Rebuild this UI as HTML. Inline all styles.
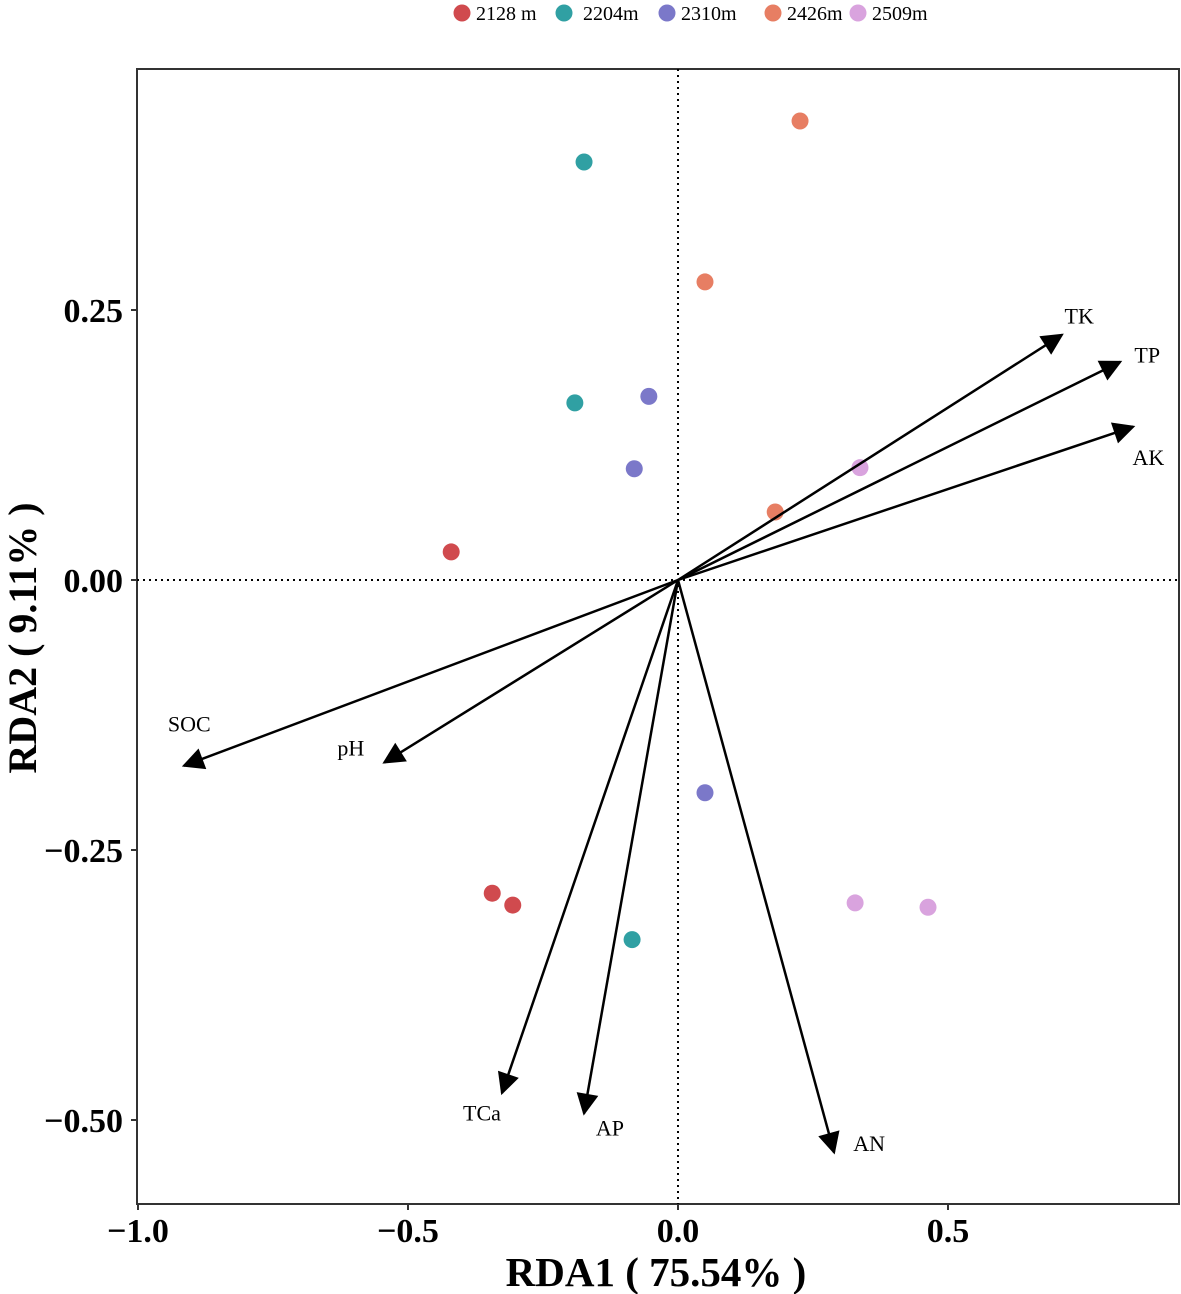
<!DOCTYPE html>
<html><head><meta charset="utf-8"><style>
body{margin:0;background:#fff}
svg{display:block;font-family:"Liberation Serif",serif}
</style></head><body>
<svg id="c" width="1181" height="1294"></svg>
<script>
const groups=["2128 m","2204m","2310m","2426m","2509m"];
const colors=["#d04a4e","#30a0a3","#7b78c9","#e77e63","#d9a3de"];
const ptGroup=[0,0,0,1,1,1,2,2,2,3,3,3,4,4,4];
const ptX=[-0.420,-0.344,-0.306,-0.174,-0.191,-0.085,-0.054,-0.081,0.050,0.226,0.050,0.180,0.337,0.328,0.463];
const ptY=[0.026,-0.290,-0.301,0.387,0.164,-0.333,0.170,0.103,-0.197,0.425,0.276,0.063,0.104,-0.299,-0.303];
const envNames=["TK","TP","AK","SOC","pH","TCa","AP","AN"];
const envX=[0.711,0.819,0.843,-0.915,-0.544,-0.326,-0.174,0.289];
const envY=[0.227,0.202,0.142,-0.172,-0.169,-0.475,-0.494,-0.530];
const labX=[0.743,0.869,0.871,-0.905,-0.606,-0.363,-0.126,0.354];
const labY=[0.244,0.208,0.113,-0.134,-0.156,-0.494,-0.508,-0.522];
const xTicks=[-1.0,-0.5,0.0,0.5];
const xTickLabels=["\u22121.0","\u22120.5","0.0","0.5"];
const yTicks=[0.25,0.0,-0.25,-0.5];
const yTickLabels=["0.25","0.00","\u22120.25","\u22120.50"];

const NS="http://www.w3.org/2000/svg";
const svg=document.getElementById('c');
const sx=v=>678+v*540, sy=v=>580-v*1080;
function mk(t,a,p){const e=document.createElementNS(NS,t);for(const k in a)e.setAttribute(k,a[k]);(p||svg).appendChild(e);return e;}
const defs=mk('defs',{});
const m=mk('marker',{id:'ah',refX:9,refY:5,orient:'auto',markerUnits:'userSpaceOnUse'},defs);
m.setAttribute('viewBox','0 0 10 10');m.setAttribute('markerWidth','26');m.setAttribute('markerHeight','22');
mk('path',{d:'M0,0 L10,5 L0,10 Z',fill:'#000'},m);
const L=137,R=1179,T=69,B=1204;
let e=mk('rect',{x:L,y:T,width:R-L,height:B-T,fill:'none',stroke:'#333','stroke-width':2});

e=mk('line',{x1:sx(0),x2:sx(0),y1:T,y2:B,stroke:'#000','stroke-dasharray':'2,4','stroke-width':2});

e=mk('line',{x1:L,x2:R,y1:sy(0),y2:sy(0),stroke:'#000','stroke-dasharray':'2,4','stroke-width':2});

xTicks.forEach((v,i)=>{
 mk('line',{x1:sx(v),x2:sx(v),y1:B,y2:B+6,stroke:'#333','stroke-width':2});
 const t=mk('text',{x:sx(v),y:B+38,'text-anchor':'middle','font-size':34,'font-weight':'bold'});t.textContent=xTickLabels[i];
 
});
yTicks.forEach((v,i)=>{
 mk('line',{x1:L-6,x2:L,y1:sy(v),y2:sy(v),stroke:'#333','stroke-width':2});
 const t=mk('text',{x:L-14,y:sy(v)+12,'text-anchor':'end','font-size':34,'font-weight':'bold'});t.textContent=yTickLabels[i];
 
});
e=mk('text',{x:656,y:1286,'text-anchor':'middle','font-size':41,'font-weight':'bold'});e.textContent='RDA1 ( 75.54% )';

e=mk('text',{x:0,y:0,'text-anchor':'middle','font-size':40,'font-weight':'bold',transform:'translate(36,638) rotate(-90)'});e.textContent='RDA2 ( 9.11% )';

ptX.forEach((v,i)=>{
 const c=mk('circle',{cx:sx(v),cy:sy(ptY[i]),r:8.5,fill:colors[ptGroup[i]]});
 
});
envNames.forEach((n,i)=>{
 const l=mk('line',{x1:sx(0),y1:sy(0),x2:sx(envX[i]),y2:sy(envY[i]),stroke:'#000','stroke-width':2.5,'marker-end':'url(#ah)'});
 
 const t=mk('text',{x:sx(labX[i]),y:sy(labY[i])+7,'text-anchor':'middle','font-size':22});t.textContent=n;
 
});
const lgX=[462,564,667,773,858];
groups.forEach((g,i)=>{
 const c=mk('circle',{cx:lgX[i],cy:13,r:8.5,fill:colors[i]});
 
 const t=mk('text',{x:lgX[i]+(i==1?19:14),y:20,'font-size':20});t.textContent=g;
 
});
</script>
</body></html>
